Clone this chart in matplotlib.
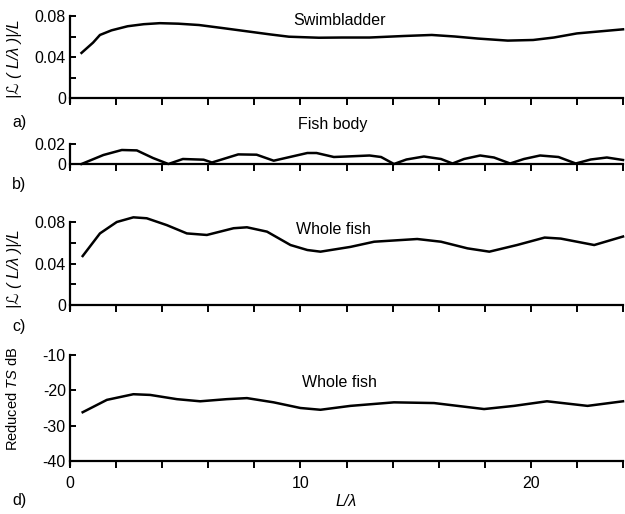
import matplotlib.pyplot as plt

plt.rcParams['font.family'] = ['Liberation Sans', 'DejaVu Sans']
plt.rcParams['mathtext.fontset'] = 'custom'
plt.rcParams['mathtext.rm'] = 'Liberation Sans'
plt.rcParams['mathtext.it'] = 'Liberation Sans:italic'

# Swimbladder
x_swim = [0.5, 1.0, 1.3, 1.8, 2.5, 3.2, 3.9, 4.7, 5.6, 6.7, 7.8, 8.7, 9.5, 10.8,
          11.8, 13.0, 14.5, 15.7, 16.7, 17.7, 19.0, 20.1, 21.0, 22.0, 23.0, 24.0]
y_swim = [0.044, 0.054, 0.0615, 0.066, 0.070, 0.072, 0.073, 0.0725, 0.0712, 0.068,
          0.0647, 0.062, 0.0598, 0.0588, 0.059, 0.059, 0.0605, 0.0615, 0.060, 0.058,
          0.056, 0.0566, 0.059, 0.063, 0.065, 0.067]

# Fish body
x_body = [0.5, 1.45, 2.25, 2.9, 3.6, 4.27, 4.9, 5.8, 6.16, 7.3, 8.1, 8.84, 10.3, 10.7,
          11.45, 12.0, 13.0, 13.5, 14.06, 14.6, 15.36, 16.1, 16.6, 17.1, 17.8, 18.4,
          19.1, 19.7, 20.4, 21.2, 21.95, 22.6, 23.3, 24.0]
y_body = [0.0, 0.009, 0.014, 0.0136, 0.006, 0.0, 0.005, 0.0043, 0.0015, 0.0096, 0.0093,
          0.0033, 0.011, 0.011, 0.007, 0.0075, 0.0085, 0.007, 0.0, 0.0045, 0.0075, 0.005,
          0.0005, 0.005, 0.0085, 0.0065, 0.0005, 0.005, 0.0085, 0.007, 0.0005, 0.0045,
          0.0065, 0.004]

# Whole fish
x_whole = [0.55, 1.3, 2.03, 2.75, 3.33, 4.2, 5.07, 5.94, 7.1, 7.68, 8.55, 9.57, 10.3,
           10.87, 12.17, 13.2, 15.07, 16.1, 17.25, 18.2, 19.4, 20.6, 21.3, 22.75, 24.0]
y_whole = [0.0472, 0.069, 0.080, 0.0845, 0.0836, 0.077, 0.069, 0.0675, 0.074, 0.0749,
           0.0707, 0.0578, 0.053, 0.0514, 0.056, 0.061, 0.0636, 0.061, 0.0546, 0.0514,
           0.0578, 0.065, 0.064, 0.0578, 0.066]

# Reduced TS
x_ts = [0.55, 1.6, 2.75, 3.48, 4.64, 5.65, 6.8, 7.68, 8.84, 10.0, 10.87, 12.17, 14.06,
        15.8, 17.97, 19.27, 20.7, 22.46, 24.0]
y_ts = [-26.2, -22.7, -21.1, -21.3, -22.5, -23.1, -22.5, -22.2, -23.4, -25.0, -25.5,
        -24.4, -23.4, -23.6, -25.3, -24.4, -23.1, -24.4, -23.1]

W, H = 625, 514
fig = plt.figure(figsize=(W / 100, H / 100), dpi=100)

L, R = 70, 623
fs = 11.5


def make_ax(y0_px, ytop_px, ymin, ymax, ext_px=4):
    # bottom axis line at ymin, left spine extends a bit below it
    per_px = (ymax - ymin) / (y0_px - ytop_px)
    lo = ymin - ext_px * per_px
    ax = fig.add_axes([L / W, 1 - (y0_px + ext_px) / H, (R - L) / W,
                       (y0_px + ext_px - ytop_px) / H])
    ax.set_ylim(lo, ymax)
    ax.set_xlim(0, 24)
    ax.spines['top'].set_visible(False)
    ax.spines['right'].set_visible(False)
    ax.spines['bottom'].set_position(('data', ymin))
    for s in ('left', 'bottom'):
        ax.spines[s].set_linewidth(1.6)
    ax.set_xticks(range(0, 25, 2))
    ax.tick_params(axis='x', direction='out', length=5, width=1.4, labelbottom=False)
    ax.tick_params(axis='y', direction='in', length=4, width=1.4, labelsize=fs, pad=3)
    return ax


lw = 1.8

ax1 = make_ax(98, 16, 0, 0.08)
ax1.plot(x_swim, y_swim, color='black', lw=lw, clip_on=False)
ax1.set_yticks([0, 0.02, 0.04, 0.06, 0.08])
ax1.set_yticklabels(['0', '', '0.04', '', '0.08'])
ax1.text(9.7, 0.076, 'Swimbladder', fontsize=fs, va='center')
ax1.set_ylabel('|ℒ ( L/λ )|/L', fontsize=fs, style='italic')
ax1.yaxis.set_label_coords(-0.087, 0.5)

ax2 = make_ax(164, 144, 0, 0.02, ext_px=3)
ax2.plot(x_body, y_body, color='black', lw=lw, clip_on=False)
ax2.set_yticks([0, 0.02])
ax2.set_yticklabels(['0', '0.02'])
ax2.text(9.9, 0.039, 'Fish body', fontsize=fs, va='center', clip_on=False)

ax3 = make_ax(305, 222, 0, 0.08)
ax3.plot(x_whole, y_whole, color='black', lw=lw, clip_on=False)
ax3.set_yticks([0, 0.02, 0.04, 0.06, 0.08])
ax3.set_yticklabels(['0', '', '0.04', '', '0.08'])
ax3.text(9.8, 0.073, 'Whole fish', fontsize=fs, va='center')
ax3.set_ylabel('|ℒ ( L/λ )|/L', fontsize=fs, style='italic')
ax3.yaxis.set_label_coords(-0.087, 0.46)

ax4 = make_ax(461, 355, -40, -10)
ax4.plot(x_ts, y_ts, color='black', lw=lw, clip_on=False)
ax4.set_yticks([-40, -30, -20, -10])
ax4.set_yticklabels(['-40', '-30', '-20', '-10'])
ax4.set_xticks([0, 10, 20])
ax4.set_xticks(range(0, 25, 2), minor=True)
ax4.tick_params(axis='x', which='both', direction='out', length=5, width=1.4,
                labelbottom=True, labelsize=fs, pad=6)
ax4.text(10.07, -17.8, 'Whole fish', fontsize=fs, va='center')
ax4.set_ylabel('Reduced $TS$ dB', fontsize=10.5)
ax4.yaxis.set_label_coords(-0.09, 0.6)
ax4.set_xlabel('L/λ', fontsize=fs, style='italic', labelpad=2)

for lab, ypx in (('a)', 122), ('b)', 184), ('c)', 326), ('d)', 500)):
    fig.text(12 / W, 1 - ypx / H, lab, fontsize=fs, va='center')

fig.savefig('out.png', dpi=100)
